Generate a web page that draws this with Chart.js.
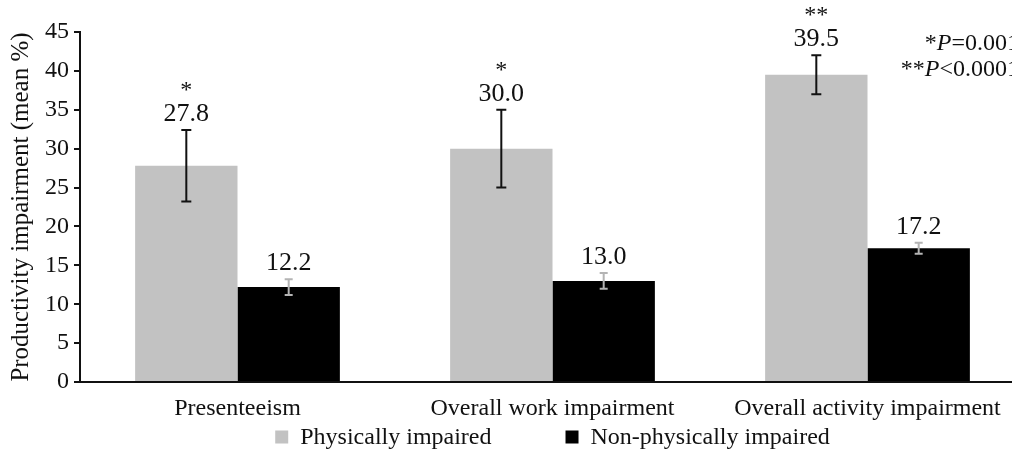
<!DOCTYPE html>
<html>
<head>
<meta charset="utf-8">
<script src="https://cdn.jsdelivr.net/npm/chart.js@4.4.1/dist/chart.umd.min.js"></script>
<style>
  html, body { margin: 0; padding: 0; background: #fff; overflow: hidden; }
  #wrap { position: relative; width: 1040px; height: 450px; }
</style>
</head>
<body>
<div id="wrap"><canvas id="chart"></canvas></div>
<script>
// chart data
const categories = ['Presenteeism', 'Overall work impairment', 'Overall activity impairment'];
const physicallyImpaired = [27.8, 30.0, 39.5];
const physicallyErr = [4.6, 5.0, 2.5];
const nonPhysicallyImpaired = [12.2, 13.0, 17.2];
const nonPhysicallyErr = [1.0, 1.0, 0.7];
const significance = ['*', '*', '**'];
const yTicks = [0, 5, 10, 15, 20, 25, 30, 35, 40, 45];

const SERIF = '"Liberation Serif", "DejaVu Serif", serif';

// error bars, value labels, significance stars, p-value note and legend
const annotatePlugin = {
    id: 'annotate',
    afterDatasetsDraw(chart) {
        const ctx = chart.ctx;
        const y = chart.scales.y;
        const errs = [physicallyErr, nonPhysicallyErr];
        const errColors = ['#111', '#b4b4b4'];
        ctx.save();
        chart.data.datasets.forEach((ds, di) => {
            const meta = chart.getDatasetMeta(di);
            meta.data.forEach((bar, i) => {
                const v = ds.data[i];
                const e = errs[di][i];
                const top = y.getPixelForValue(v + e);
                const bot = y.getPixelForValue(v - e);
                const cap = di === 0 ? 5 : 4;
                ctx.strokeStyle = errColors[di];
                ctx.lineWidth = 2;
                ctx.beginPath();
                ctx.moveTo(bar.x, top); ctx.lineTo(bar.x, bot);
                ctx.moveTo(bar.x - cap, top); ctx.lineTo(bar.x + cap, top);
                ctx.moveTo(bar.x - cap, bot); ctx.lineTo(bar.x + cap, bot);
                ctx.stroke();

                ctx.fillStyle = '#111';
                ctx.textAlign = 'center';
                ctx.textBaseline = 'alphabetic';
                ctx.font = '26px ' + SERIF;
                ctx.fillText(v.toFixed(1), bar.x, top - 9);
                if (di === 0) {
                    ctx.font = '24px ' + SERIF;
                    ctx.fillText(significance[i], bar.x, top - 33);
                }
            });
        });

        // p-value note, top right
        const notes = [['*', 'P', '=0.001'], ['**', 'P', '<0.0001']];
        const rightX = 1019;
        notes.forEach((n, k) => {
            const yy = 50 + k * 26;
            ctx.font = '24px ' + SERIF;
            const w1 = ctx.measureText(n[0]).width;
            const w3 = ctx.measureText(n[2]).width;
            ctx.font = 'italic 24px ' + SERIF;
            const w2 = ctx.measureText(n[1]).width;
            let x = rightX - (w1 + w2 + w3);
            ctx.textAlign = 'left';
            ctx.font = '24px ' + SERIF;
            ctx.fillText(n[0], x, yy); x += w1;
            ctx.font = 'italic 24px ' + SERIF;
            ctx.fillText(n[1], x, yy); x += w2;
            ctx.font = '24px ' + SERIF;
            ctx.fillText(n[2], x, yy);
        });

        // legend at the bottom
        const area = chart.chartArea;
        ctx.font = '24px ' + SERIF;
        const items = chart.data.datasets.map(ds => ({
            text: ds.label, color: ds.backgroundColor, w: ctx.measureText(ds.label).width
        }));
        const box = 13, gap = 12, between = 74;
        const total = items.reduce((s, it) => s + box + gap + it.w, 0) + between * (items.length - 1);
        let lx = (area.left + area.right) / 2 - total / 2;
        const ly = 437;
        ctx.textBaseline = 'middle';
        items.forEach(it => {
            ctx.fillStyle = it.color;
            ctx.fillRect(lx, ly - box / 2, box, box);
            lx += box + gap;
            ctx.fillStyle = '#111';
            ctx.fillText(it.text, lx, ly + 1);
            lx += it.w + between;
        });
        ctx.restore();
    }
};

new Chart(document.getElementById('chart'), {
    type: 'bar',
    data: {
        labels: categories,
        datasets: [{
            label: 'Physically impaired',
            data: physicallyImpaired,
            backgroundColor: '#c2c2c2',
            borderWidth: 0
        }, {
            label: 'Non-physically impaired',
            data: nonPhysicallyImpaired,
            backgroundColor: '#000000',
            borderWidth: 0
        }]
    },
    options: {
        responsive: true,
        maintainAspectRatio: false,
        animation: false,
        categoryPercentage: 0.65,
        barPercentage: 1.0,
        layout: { padding: { top: 32, right: 15, left: 0, bottom: 0 } },
        scales: {
            x: {
                afterFit: axis => { axis.height = 68; },
                grid: { display: false, drawTicks: false },
                border: { color: '#111', width: 2 },
                ticks: {
                    color: '#111',
                    padding: 12,
                    font: { family: SERIF, size: 24 }
                }
            },
            y: {
                min: 0,
                max: 45,
                afterFit: axis => { axis.width = 80; },
                afterBuildTicks: axis => { axis.ticks = yTicks.map(v => ({ value: v })); },
                grid: { display: true, drawOnChartArea: false, drawTicks: true, tickLength: 6, color: '#111', lineWidth: 2 },
                border: { color: '#111', width: 2 },
                ticks: {
                    color: '#111',
                    padding: 5,
                    font: { family: SERIF, size: 24 }
                },
                title: {
                    display: true,
                    text: 'Productivity impairment (mean %)',
                    color: '#111',
                    padding: 6,
                    font: { family: SERIF, size: 25 }
                }
            }
        },
        plugins: {
            legend: { display: false },
            tooltip: { enabled: false }
        }
    },
    plugins: [annotatePlugin]
});
</script>
</body>
</html>
